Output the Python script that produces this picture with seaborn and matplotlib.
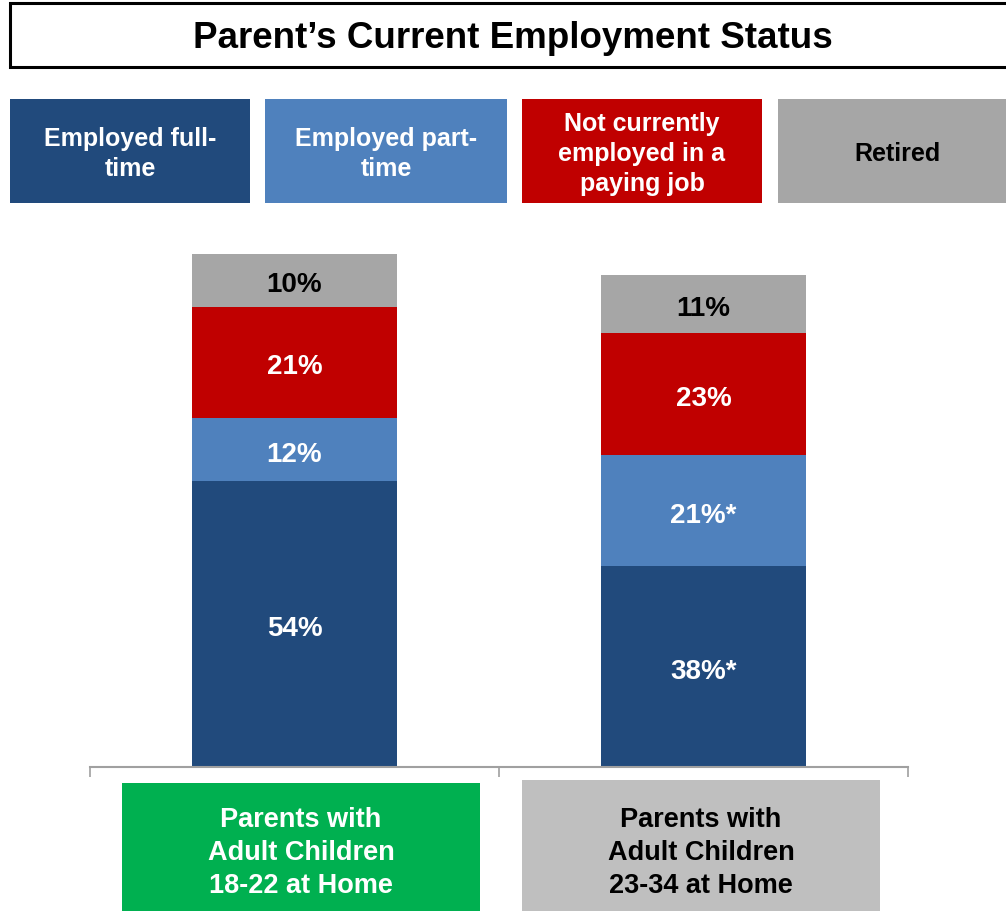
import numpy as np
import pandas as pd
import matplotlib
matplotlib.use("Agg")
import matplotlib.pyplot as plt
from matplotlib.patches import Rectangle
import seaborn as sns

# Survey data: share of parents by employment status
groups = ["Parents with\nAdult Children\n18-22 at Home",
          "Parents with\nAdult Children\n23-34 at Home"]
statuses = ["Employed full-\ntime", "Employed part-\ntime",
            "Not currently\nemployed in a\npaying job", "Retired"]
full_time = [54, 38]
part_time = [12, 21]
not_employed = [21, 23]
retired = [10, 11]
value_labels = [["54%", "12%", "21%", "10%"],
                ["38%*", "21%*", "23%", "11%"]]

colors = ["#214A7C", "#4F81BD", "#C00000", "#A6A6A6"]
label_colors = ["white", "white", "white", "black"]
group_box_colors = ["#00B050", "#BFBFBF"]
group_text_colors = ["white", "black"]

sns.set_theme(style="white")
plt.rcParams["font.family"] = ["Liberation Sans", "DejaVu Sans"]
plt.rcParams["font.weight"] = "bold"

W, H = 1006, 912
fig = plt.figure(figsize=(W / 100, H / 100), dpi=100)


def fx(px):
    return px / W


def fy(py):
    return 1 - py / H


# Plot area: x spans the axis line, y runs from 0 to 100 percent
ax_left, ax_right = 90, 908
ax_bottom, ax_top = 768, 768 - 529
ax = fig.add_axes([fx(ax_left), fy(ax_bottom),
                   fx(ax_right) - fx(ax_left), (ax_bottom - ax_top) / H])

series = [full_time, part_time, not_employed, retired]
df = pd.DataFrame({"group": groups})
for name, vals in zip(statuses, series):
    df[name] = vals
cum = np.cumsum(np.array(series), axis=0)

# Stacked bars: draw cumulative totals from the top segment down
for i in range(len(series) - 1, -1, -1):
    sns.barplot(x=df["group"], y=cum[i], color=colors[i], width=0.5,
                saturation=1, ax=ax, linewidth=0, order=groups)

for g in range(len(groups)):
    for i in range(len(series)):
        lo = cum[i - 1][g] if i > 0 else 0
        mid = (lo + cum[i][g]) / 2
        ax.annotate(value_labels[g][i], (g, mid), xytext=(0, -3),
                    textcoords="offset points", ha="center", va="center",
                    fontsize=20, fontweight="bold", color=label_colors[i])

ax.set_xlim(-0.5, 1.5)
ax.set_ylim(0, 100)
ax.set_xlabel("")
ax.set_ylabel("")
ax.set_yticks([])
ax.set_xticks([-0.5, 0.5, 1.5])
ax.set_xticklabels([])
ax.tick_params(axis="x", direction="out", length=7, width=1.2,
               color="#A0A0A0", bottom=True)
for side in ["left", "right", "top"]:
    ax.spines[side].set_visible(False)
ax.spines["bottom"].set_color("#A0A0A0")
ax.spines["bottom"].set_linewidth(1.5)
ax.patch.set_alpha(0)

# Title box
fig.patches.append(Rectangle((fx(10), fy(68)), fx(1010) - fx(10), (68 - 4) / H,
                             transform=fig.transFigure, facecolor="white",
                             edgecolor="black", linewidth=2.2, zorder=1))
fig.text(fx(513), fy(38), "Parent\u2019s Current Employment Status",
         ha="center", va="center", fontsize=26.5, fontweight="bold",
         color="black")

# Legend boxes
legend_boxes = [(10, 250), (265, 507), (522, 762), (778, 1018)]
for (x0, x1), name, c, tc in zip(legend_boxes, statuses, colors, label_colors):
    fig.patches.append(Rectangle((fx(x0), fy(204)), fx(x1) - fx(x0), 104 / H,
                                 transform=fig.transFigure, facecolor=c,
                                 edgecolor="none", zorder=1))
    fig.text(fx((x0 + x1) / 2), fy(154), name, ha="center", va="center",
             fontsize=18, fontweight="bold", color=tc, linespacing=1.3)

# Group label boxes under the bars
group_boxes = [(122, 480, 784), (522, 880, 781)]
for (x0, x1, y0), name, c, tc in zip(group_boxes, groups,
                                     group_box_colors, group_text_colors):
    fig.patches.append(Rectangle((fx(x0), fy(920)), fx(x1) - fx(x0),
                                 (920 - y0) / H, transform=fig.transFigure,
                                 facecolor=c, edgecolor="none", zorder=1))
    fig.text(fx((x0 + x1) / 2), fy(853), name, ha="center", va="center",
             fontsize=19.5, fontweight="bold", color=tc, linespacing=1.35)

fig.savefig("out.png", dpi=100)
